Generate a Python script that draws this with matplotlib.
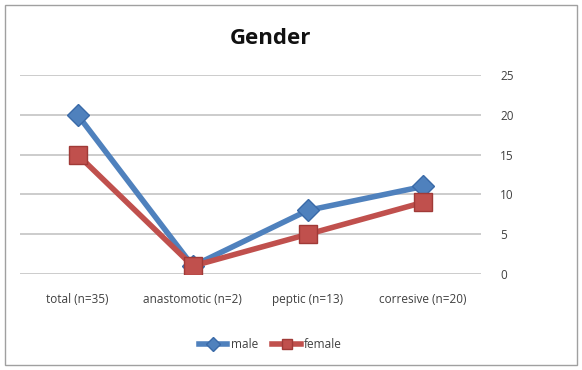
import matplotlib
matplotlib.use("Agg")
import matplotlib.pyplot as plt
from matplotlib.patches import Rectangle

categories = ["total (n=35)", "anastomotic (n=2)", "peptic (n=13)", "corresive (n=20)"]
male = [20, 1, 8, 11]
female = [15, 1, 5, 9]
yticks = [0, 5, 10, 15, 20, 25]

plt.rcParams['font.family'] = ['Open Sans', 'DejaVu Sans']

fig = plt.figure(figsize=(5.82, 3.70), dpi=100)
fig.patches.append(Rectangle((0.009, 0.014), 0.982, 0.972, transform=fig.transFigure,
                             fill=False, edgecolor='#a0a0a0', linewidth=1.0))
ax = fig.add_axes([0.0344, 0.2595, 0.7915, 0.5375])
x = list(range(len(categories)))
ax.plot(x, male, color='#4F81BD', linewidth=4, marker='D', markersize=11.5,
        markerfacecolor='#4F81BD', markeredgecolor='#3a6aa8', label='male', zorder=3)
ax.plot(x, female, color='#C0504D', linewidth=4, marker='s', markersize=13,
        markerfacecolor='#C0504D', markeredgecolor='#a03a37', label='female', zorder=4)
ax.set_xlim(-0.5, 3.5)
ax.set_ylim(0, 25)
ax.set_yticks(yticks)
ax.set_xticks(x)
ax.set_xticklabels(categories, fontsize=8.5, color='#404040')
ax.yaxis.tick_right()
ax.tick_params(axis='y', length=0, labelsize=8.5, labelcolor='#404040', pad=14)
ax.tick_params(axis='x', length=0, pad=14)
ax.grid(axis='y', color='#c8c8c8', linewidth=1.3)
ax.set_axisbelow(True)
for s in ax.spines.values():
    s.set_visible(False)
fig.text(0.465, 0.895, "Gender", ha='center', va='center', fontsize=16, fontweight='bold', color='#111111')
fig.legend(loc='center', bbox_to_anchor=(0.465, 0.068), ncol=2, frameon=False,
           fontsize=8.5, handlelength=2.4, columnspacing=1.2, handletextpad=0.3,
           markerscale=0.6, labelcolor='#404040')
fig.savefig("out.png", dpi=100)
